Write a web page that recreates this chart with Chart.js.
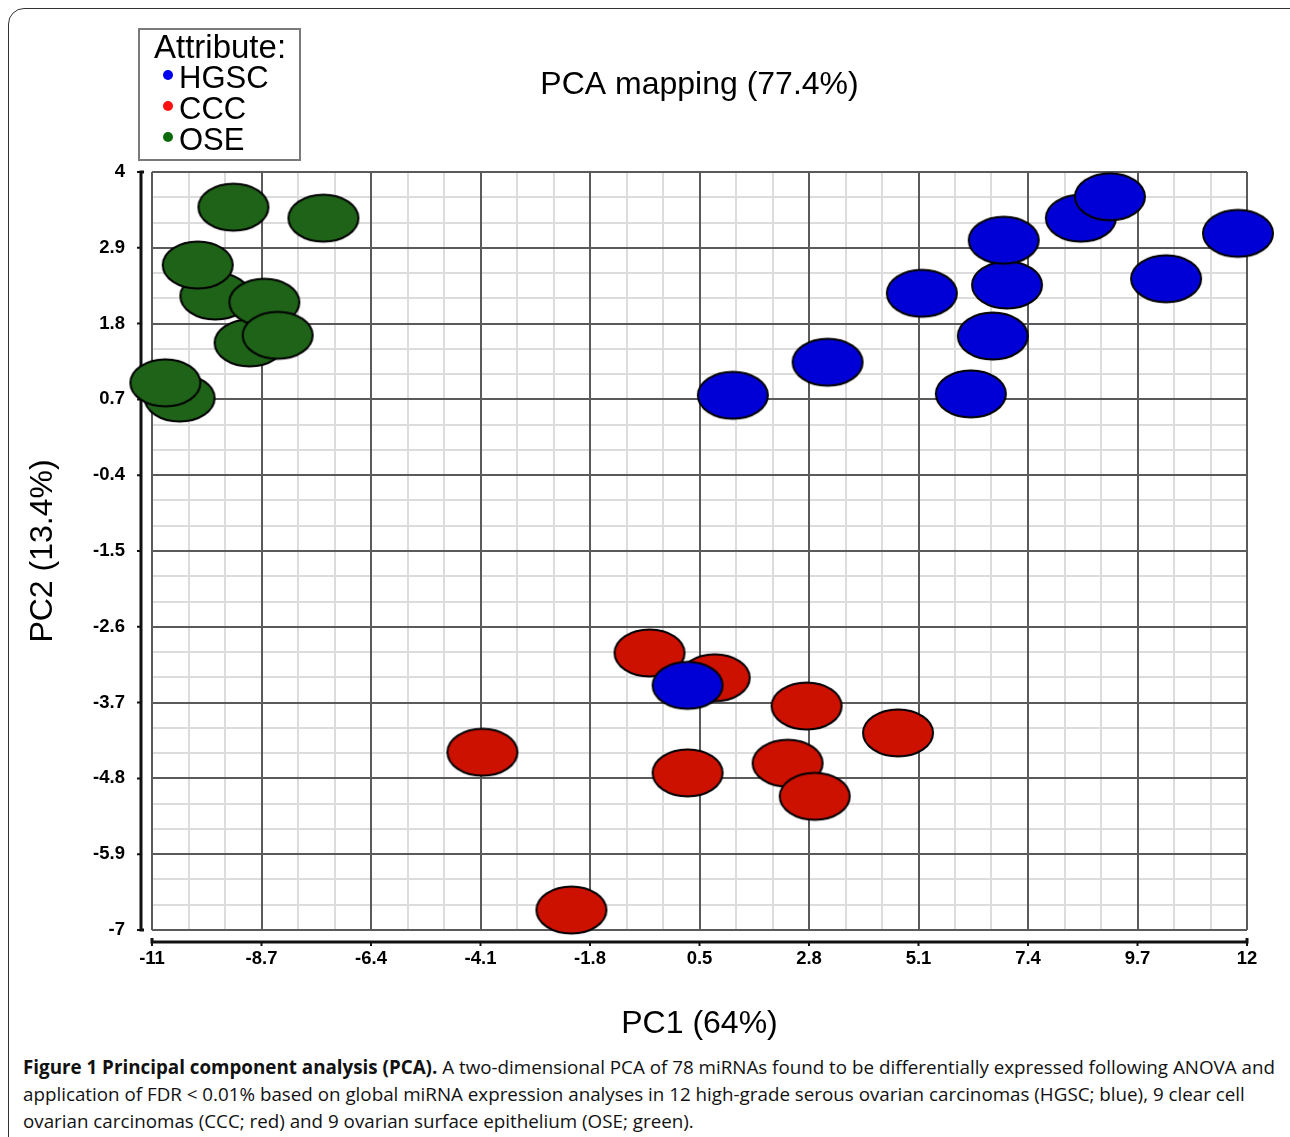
<!DOCTYPE html>
<html>
<head>
<meta charset="utf-8">
<script src="https://cdn.jsdelivr.net/npm/chart.js@4.4.0/dist/chart.umd.min.js"></script>
<style>
  html, body { margin: 0; padding: 0; background: #fff; overflow: hidden; }
  body { width: 1290px; height: 1137px; position: relative; }
  #frame { position: absolute; left: 8px; top: 8px; width: 1310px; height: 1160px;
           border: 1.5px solid #333; border-radius: 16px; box-sizing: border-box; }
  #wrap { position: absolute; left: 0; top: 0; width: 1290px; height: 1050px; }
  #legend { position: absolute; left: 138px; top: 28px; width: 163px; height: 133px;
            box-sizing: border-box; border: 2px solid #7a7a7a;
            font-family: "Liberation Sans", Arial, sans-serif; font-size: 31px; color: #000; }
  #legend .head { position: absolute; left: 14px; top: 0px; line-height: 34px; font-size: 33px; }
  #legend .item { position: absolute; left: 39px; line-height: 31px; white-space: nowrap; }
  #legend .dot { position: absolute; left: -16px; top: 8px; width: 10px; height: 10px; border-radius: 50%; }
  #caption { position: absolute; left: 23px; top: 1054px; font-family: "Open Sans", sans-serif;
             font-size: 18.8px; line-height: 27px; color: #111; white-space: nowrap; }
</style>
</head>
<body>
<div id="frame"></div>
<div id="wrap"><canvas id="pca" width="1290" height="1050"></canvas></div>
<div id="legend"></div>
<div id="caption"><b>Figure 1 Principal component analysis (PCA).</b> A two-dimensional PCA of 78 miRNAs found to be differentially expressed following ANOVA and<br>application of FDR &lt; 0.01% based on global miRNA expression analyses in 12 high-grade serous ovarian carcinomas (HGSC; blue), 9 clear cell<br>ovarian carcinomas (CCC; red) and 9 ovarian surface epithelium (OSE; green).</div>
<script>
const xTicks = [-11, -8.7, -6.4, -4.1, -1.8, 0.5, 2.8, 5.1, 7.4, 9.7, 12];
const yTicks = [-7, -5.9, -4.8, -3.7, -2.6, -1.5, -0.4, 0.7, 1.8, 2.9, 4];

const grupos = ['HGSC', 'CCC', 'OSE'];

const hgscX = [11.81, 8.51, 9.12, 6.96, 6.89, 10.30, 5.17, 6.66, 3.19, 1.20, 6.20, 0.25];
const hgscY = [3.11, 3.33, 3.64, 2.36, 3.01, 2.45, 2.24, 1.62, 1.24, 0.76, 0.78, -3.45];

const cccX = [0.82, -0.55, 2.75, 4.67, 0.25, 2.35, 2.92, -4.06, -2.19];
const cccY = [-3.34, -2.98, -3.75, -4.14, -4.72, -4.58, -5.06, -4.42, -6.71];

const oseX = [-9.29, -7.40, -9.67, -10.04, -8.95, -8.64, -8.36, -10.42, -10.72];
const oseY = [3.49, 3.33, 2.20, 2.65, 1.52, 2.11, 1.63, 0.72, 0.94];

const colores = ['#0000d6', '#cc1100', '#1e6318'];
const coloresLeyenda = ['#0000ee', '#ff1010', '#0a6a0a'];

const fuente = '"Liberation Sans", Arial, sans-serif';

// elipse con borde negro como estilo de punto
function elipse(color) {
    const c = document.createElement('canvas');
    c.width = 76; c.height = 52;
    const g = c.getContext('2d');
    g.beginPath();
    g.ellipse(38, 26, 35, 23.5, 0, 0, Math.PI * 2);
    g.fillStyle = color;
    g.fill();
    g.lineWidth = 2;
    g.strokeStyle = '#000';
    g.stroke();
    return c;
}

function puntos(xs, ys) {
    return xs.map((x, i) => ({ x: x, y: ys[i] }));
}

// marcas principales y dos secundarias entre cada par
function conMenores(labels) {
    const ticks = [];
    for (let i = 0; i < labels.length; i++) {
        ticks.push({ value: labels[i], main: true });
        if (i < labels.length - 1) {
            const paso = (labels[i + 1] - labels[i]) / 3;
            ticks.push({ value: labels[i] + paso, main: false });
            ticks.push({ value: labels[i] + 2 * paso, main: false });
        }
    }
    return ticks;
}

// rejilla secundaria debajo y ejes separados del area
const marcoEjes = {
    id: 'marcoEjes',
    beforeDraw(chart) {
        const { ctx, chartArea: a, scales: { x, y } } = chart;
        ctx.save();
        ctx.strokeStyle = '#dcdcdc';
        ctx.lineWidth = 2;
        ctx.beginPath();
        x.ticks.forEach(t => {
            if (t.main) return;
            const px = Math.round(x.getPixelForValue(t.value));
            ctx.moveTo(px, a.top); ctx.lineTo(px, a.bottom);
        });
        y.ticks.forEach(t => {
            if (t.main) return;
            const py = Math.round(y.getPixelForValue(t.value));
            ctx.moveTo(a.left, py); ctx.lineTo(a.right, py);
        });
        ctx.stroke();
        ctx.restore();
    },
    beforeDatasetsDraw(chart) {
        const { ctx, chartArea: a, scales: { x, y } } = chart;
        const lx = a.left - 11;
        const by = a.bottom + 12;
        ctx.save();
        ctx.strokeStyle = '#111';
        ctx.lineWidth = 3;
        ctx.beginPath();
        ctx.moveTo(lx + 3, a.top); ctx.lineTo(lx, a.top); ctx.lineTo(lx, a.bottom); ctx.lineTo(lx + 3, a.bottom);
        ctx.moveTo(a.left, by - 4); ctx.lineTo(a.left, by); ctx.lineTo(a.right, by); ctx.lineTo(a.right, by - 4);
        ctx.stroke();
        ctx.lineWidth = 2;
        ctx.beginPath();
        y.ticks.forEach(t => {
            if (!t.main) return;
            const py = y.getPixelForValue(t.value);
            ctx.moveTo(lx, py); ctx.lineTo(lx - 4, py);
        });
        x.ticks.forEach(t => {
            if (!t.main) return;
            const px = x.getPixelForValue(t.value);
            ctx.moveTo(px, by); ctx.lineTo(px, by + 4);
        });
        ctx.stroke();
        ctx.restore();
    }
};

function colorRejilla(c) {
    return c.tick && c.tick.main ? '#5a5a5a' : 'rgba(0,0,0,0)';
}

function etiqueta(value, index, ticks) {
    return ticks[index].main ? String(value) : '';
}

function graficarPCA() {
    const ctx = document.getElementById('pca').getContext('2d');
    const series = [puntos(hgscX, hgscY), puntos(cccX, cccY), puntos(oseX, oseY)];

    const chart = new Chart(ctx, {
        type: 'scatter',
        data: {
            datasets: grupos.map((g, i) => ({
                label: g,
                data: series[i],
                pointStyle: elipse(colores[i]),
                pointRadius: 24,
                backgroundColor: colores[i],
                clip: false
            }))
        },
        options: {
            responsive: false,
            animation: false,
            events: [],
            layout: { padding: { left: 0, right: 43, top: 0, bottom: 5 } },
            plugins: {
                legend: { display: false },
                tooltip: { enabled: false },
                title: {
                    display: true,
                    fullSize: false,
                    text: 'PCA mapping (77.4%)',
                    color: '#000',
                    font: { family: fuente, size: 32, weight: 'normal' },
                    padding: { top: 66, bottom: 67.6 }
                }
            },
            scales: {
                x: {
                    type: 'linear',
                    min: -11,
                    max: 12,
                    afterBuildTicks: s => { s.ticks = conMenores(xTicks); },
                    afterFit: s => { s.height = 115; },
                    grid: { color: colorRejilla, lineWidth: 2, drawTicks: false },
                    border: { display: false },
                    ticks: {
                        autoSkip: false,
                        maxRotation: 0,
                        padding: 18,
                        color: '#000',
                        font: { family: fuente, size: 18.5, weight: 'bold' },
                        callback: etiqueta
                    },
                    title: {
                        display: true,
                        text: 'PC1 (64%)',
                        color: '#000',
                        font: { family: fuente, size: 32 },
                        padding: { top: 0, bottom: 2 }
                    }
                },
                y: {
                    type: 'linear',
                    min: -7,
                    max: 4,
                    afterBuildTicks: s => { s.ticks = conMenores(yTicks); },
                    afterFit: s => { s.width = 152; },
                    grid: { color: colorRejilla, lineWidth: 2, drawTicks: false },
                    border: { display: false },
                    ticks: {
                        autoSkip: false,
                        padding: 27,
                        color: '#000',
                        font: { family: fuente, size: 18.5, weight: 'bold' },
                        callback: etiqueta
                    },
                    title: {
                        display: true,
                        text: 'PC2 (13.4%)',
                        color: '#000',
                        font: { family: fuente, size: 32 },
                        padding: { top: 24, bottom: 0 }
                    }
                }
            }
        },
        plugins: [marcoEjes]
    });

    // leyenda con titulo "Attribute:"
    const leyenda = document.getElementById('legend');
    let html = '<div class="head">Attribute:</div>';
    chart.data.datasets.forEach((d, i) => {
        html += '<div class="item" style="top:' + (32 + i * 31) + 'px"><span class="dot" style="background:' +
            coloresLeyenda[i] + '"></span>' + d.label + '</div>';
    });
    leyenda.innerHTML = html;
}

window.onload = function() {
    graficarPCA();
};
</script>
</body>
</html>
